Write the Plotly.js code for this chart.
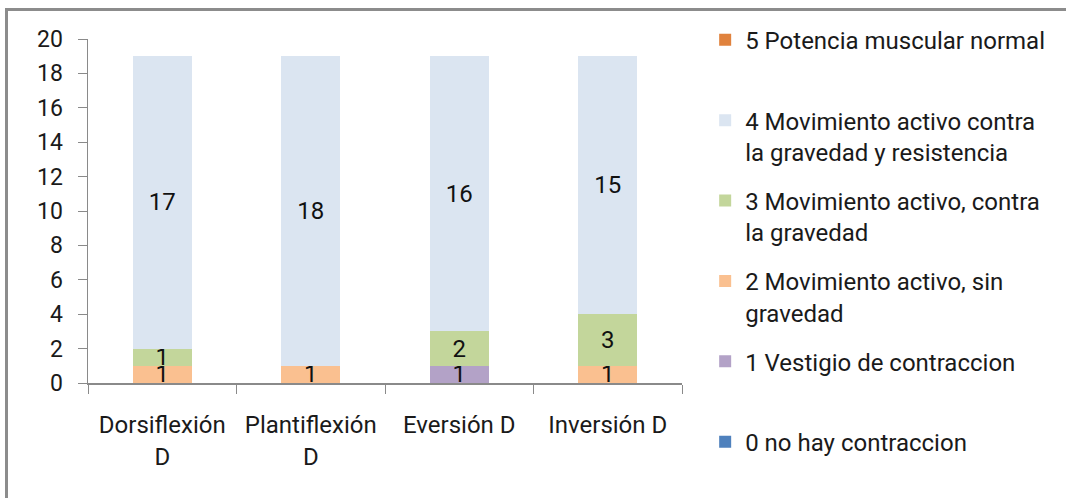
<!DOCTYPE html>
<html>
<head>
<meta charset="utf-8">
<script src="https://cdn.plot.ly/plotly-3.0.1.min.js"></script>
<style>
  html, body { margin: 0; padding: 0; background: #fff; }
  #chart { position: absolute; left: 0; top: 0; width: 1066px; height: 498px; }
  #frame { position: absolute; left: 5px; top: 8px; width: 1100px; height: 520px;
           border-left: 3px solid #8c8c8c; border-top: 3px solid #8c8c8c; pointer-events: none; }
</style>
</head>
<body>
<div id="chart"></div>
<div id="frame"></div>
<script>
// Categories (x axis)
const categories = ["Dorsiflexión<br>D", "Plantiflexión<br>D", "Eversión D", "Inversión D"];

// Series values (stacked bottom to top)
const nivel0 = [0, 0, 0, 0];   // 0 no hay contraccion
const nivel1 = [0, 0, 1, 0];   // 1 Vestigio de contraccion
const nivel2 = [1, 1, 0, 1];   // 2 Movimiento activo, sin gravedad
const nivel3 = [1, 0, 2, 3];   // 3 Movimiento activo, contra la gravedad
const nivel4 = [17, 18, 16, 15]; // 4 Movimiento activo contra la gravedad y resistencia
const nivel5 = [0, 0, 0, 0];   // 5 Potencia muscular normal

const seriesNames = [
  "0 no hay contraccion<br> ",
  "1 Vestigio de contraccion<br> ",
  "2 Movimiento activo, sin<br>gravedad",
  "3 Movimiento activo, contra<br>la gravedad",
  "4 Movimiento activo contra<br>la gravedad y resistencia",
  "5 Potencia muscular normal<br> "
];
const seriesValues = [nivel0, nivel1, nivel2, nivel3, nivel4, nivel5];
const seriesColors = ["#4F81BD", "#B3A2C7", "#FAC090", "#C3D69B", "#DBE5F1", "#E0823D"];

const FONT = "Roboto, 'Liberation Sans', sans-serif";

const traces = seriesValues.map((vals, i) => ({
  type: "bar",
  name: seriesNames[i],
  legendgroup: "g" + i,
  legendrank: 100 - i * 10,
  x: categories,
  y: vals,
  text: vals.map(v => v ? String(v) : ""),
  textposition: "inside",
  insidetextanchor: "middle",
  constraintext: "none",
  textangle: 0,
  cliponaxis: false,
  textfont: { family: FONT, size: 24, color: "#111" },
  marker: { color: seriesColors[i], line: { width: 0 } },
  hoverinfo: "x+y+name"
}));

const layout = {
  width: 1066,
  height: 498,
  margin: { l: 88, r: 384, t: 39, b: 115 },
  paper_bgcolor: "#fff",
  plot_bgcolor: "#fff",
  barmode: "stack",
  bargap: 0.6,
  font: { family: FONT, size: 24, color: "#1a1a1a" },
  showlegend: true,
  legend: {
    x: 1.039,
    xanchor: "left",
    xref: "paper",
    y: 1.062,
    yanchor: "top",
    maxheight: 490,
    traceorder: "grouped",
    tracegroupgap: 15,
    valign: "top",
    font: { family: FONT, size: 24, color: "#1a1a1a" },
    bgcolor: "rgba(0,0,0,0)"
  },
  xaxis: {
    type: "category",
    showline: true,
    linecolor: "#8a8a8a",
    linewidth: 1.5,
    ticks: "outside",
    tickson: "boundaries",
    ticklen: 9,
    tickcolor: "#8a8a8a",
    showgrid: false,
    zeroline: false,
    ticklabelstandoff: 20,
    tickfont: { family: FONT, size: 24, color: "#1a1a1a" },
    fixedrange: true
  },
  yaxis: {
    range: [0, 20],
    dtick: 2,
    tick0: 0,
    showline: true,
    linecolor: "#8a8a8a",
    linewidth: 1.5,
    ticks: "outside",
    ticklen: 9,
    tickcolor: "#8a8a8a",
    showgrid: false,
    zeroline: false,
    ticklabelstandoff: 10,
    tickfont: { family: FONT, size: 23, color: "#1a1a1a" },
    fixedrange: true
  }
};

Plotly.newPlot("chart", traces, layout, { displayModeBar: false, staticPlot: true });
</script>
</body>
</html>
